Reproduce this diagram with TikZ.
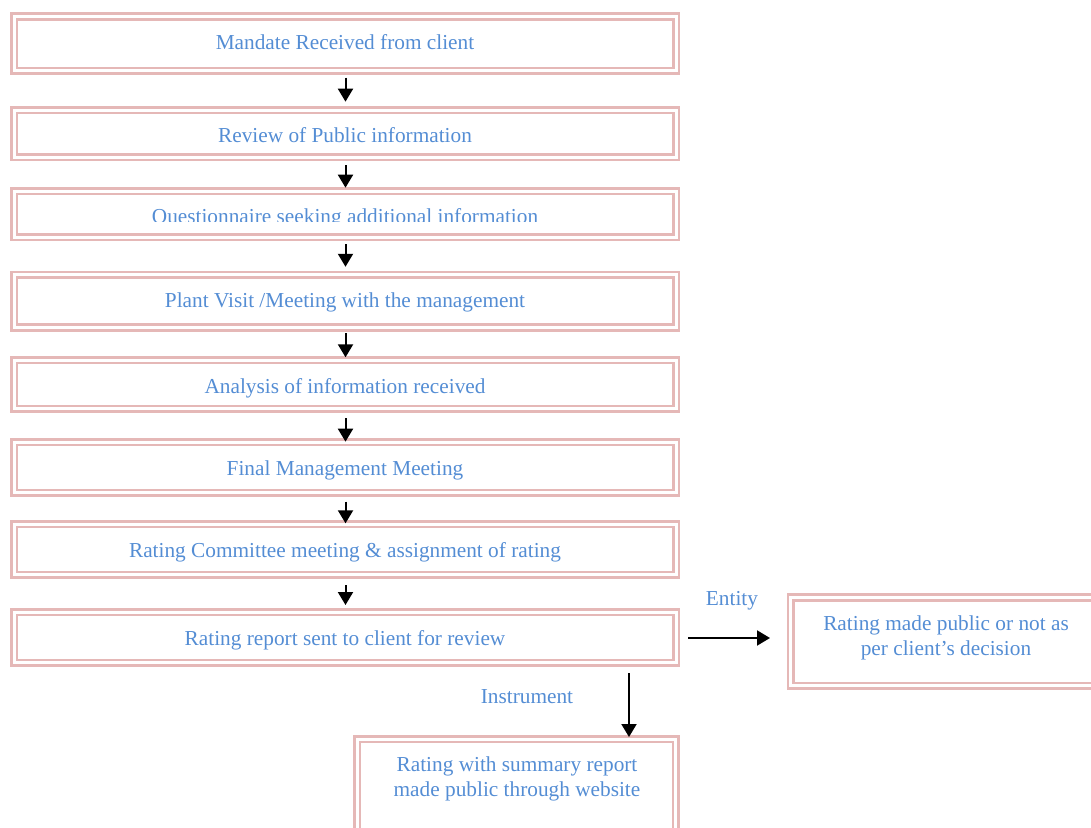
\documentclass[tikz,border=0pt]{standalone}
\usepackage{fontspec}
\setmainfont{Liberation Serif}
\usetikzlibrary{arrows.meta,calc}
\definecolor{boxpink}{HTML}{E5B8B7}
\definecolor{txtblue}{HTML}{548DD4}
\tikzset{
  dbox/.style={draw=boxpink, double=white, double distance=3pt, line width=2.7pt,
    inner sep=0pt, outer sep=0pt, minimum width=662pt},
  txt/.style={text=txtblue, font=\fontsize{21.3}{25}\selectfont, inner sep=0pt, anchor=base, align=center},
  arr/.style={line width=2pt, -{Triangle[width=15pt,length=13pt]}}
}
\begin{document}
\begin{tikzpicture}[x=1pt,y=-1pt]
\useasboundingbox (0,0) rectangle (1091,827);
\clip (0,0) rectangle (1091,827);
% main boxes
\node[dbox, minimum height=54.2pt] (b1) at (345,43.75) {};
\node[dbox, minimum height=47pt]   (b2) at (345,133.5) {};
\node[dbox, minimum height=46pt]   (b3) at (345,214) {};
\node[dbox, minimum height=52.7pt] (b4) at (345,301.2) {};
\node[dbox, minimum height=48.6pt] (b5) at (345,384.5) {};
\node[dbox, minimum height=50.6pt] (b6) at (345,467.5) {};
\node[dbox, minimum height=50.6pt] (b7) at (345,549.5) {};
\node[dbox, minimum height=50.6pt] (b8) at (345,637.5) {};
\node[dbox, minimum width=309.2pt, minimum height=88.3pt] (pub) at (945.4,641.6) {};
\node[dbox, minimum width=318.6pt, minimum height=110.8pt] (web) at (516.5,794.6) {};
% texts
\node[txt] (t1) at (345,49) {Mandate Received from client};
\node[txt] (t2) at (345,142.7) {Review of Public information};
\begin{scope}
\clip (14,192) rectangle (676,221.8);
\node[txt] (t3) at (345,223) {Questionnaire seeking additional information};
\end{scope}
\node[txt] (t4) at (345,307) {Plant Visit /Meeting with the management};
\node[txt] (t5) at (345,393) {Analysis of information received};
\node[txt] (t6) at (345,475.2) {Final Management Meeting};
\node[txt] (t7) at (345,557) {Rating Committee meeting \& assignment of rating};
\node[txt] (t8) at (345,645) {Rating report sent to client for review};
\node[txt] (tp) at (946,655) {Rating made public or not as\\per client’s decision};
\node[txt] (tw) at (517,796.7) {Rating with summary report\\made public through website};
\node[txt] (le) at (732,605) {Entity};
\node[txt] (li) at (527,703.3) {Instrument};
% arrows
\draw[arr] ($(b1.south)+(0.5,6.85)$) -- ($(b2.north)+(0.5,-8.3)$);
\draw[arr] ($(b2.south)+(0.5,8)$) -- ($(b3.north)+(0.5,-3.3)$);
\draw[arr] ($(b3.south)+(0.5,7.3)$) -- ($(b4.north)+(0.5,-8.1)$);
\draw[arr] ($(b4.south)+(0.5,5.8)$) -- ($(b5.north)+(0.5,-2.9)$);
\draw[arr] ($(b5.south)+(0.5,9.5)$) -- ($(b6.north)+(0.5,-0.5)$);
\draw[arr] ($(b6.south)+(0.5,8.9)$) -- ($(b7.north)+(0.5,-0.9)$);
\draw[arr] ($(b7.south)+(0.5,10.2)$) -- ($(b8.north)+(0.5,-7.2)$);
\draw[arr] ($(b8.east)+(12,0.5)$) -- ($(pub.west)+(-20.8,-3.6)$);
\draw[arr] ($(b8.south east)+(-47,10.2)$) -- ($(web.north east)+(-46.8,-2.2)$);
\end{tikzpicture}
\end{document}
